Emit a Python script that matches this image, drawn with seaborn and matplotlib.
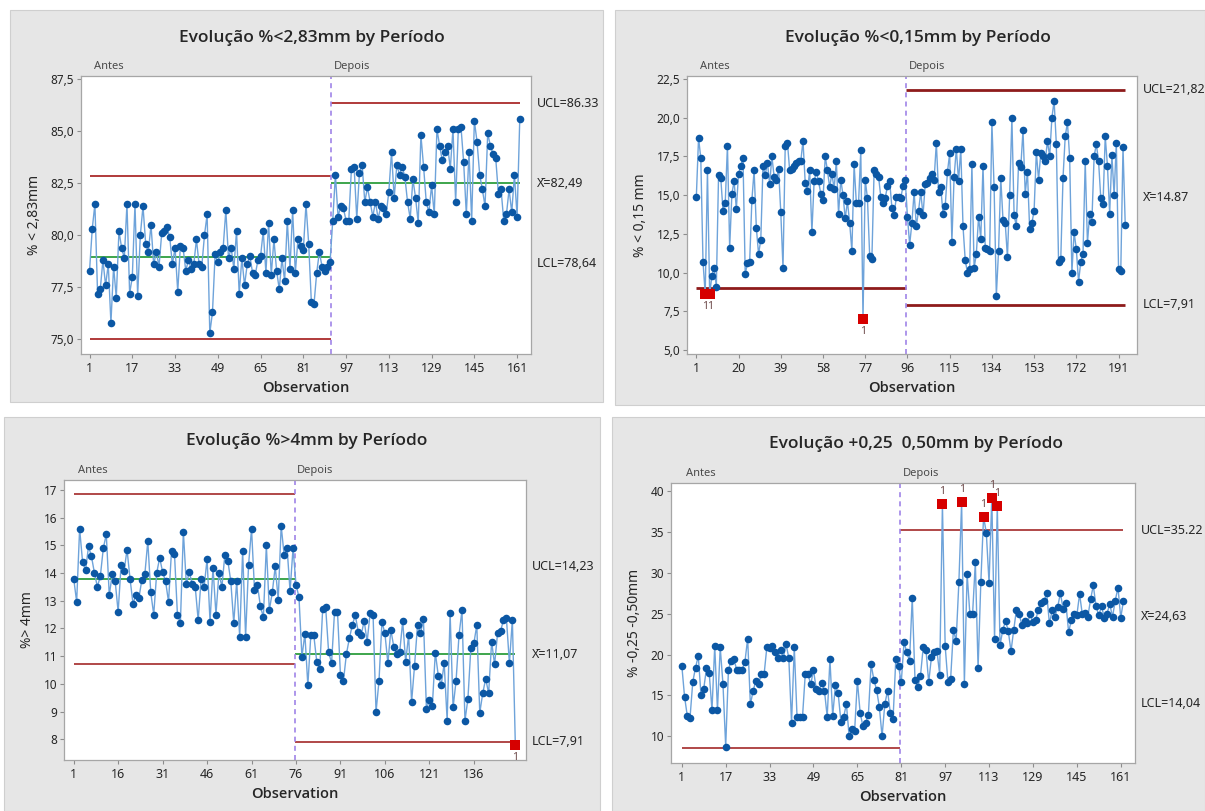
import numpy as np
import pandas as pd
import matplotlib
matplotlib.use("Agg")
import matplotlib.pyplot as plt
import seaborn as sns
from matplotlib.ticker import FuncFormatter, FixedLocator
from matplotlib.patches import Rectangle

sns.set_theme(style="white")
plt.rcParams['font.family'] = ['Noto Sans', 'DejaVu Sans']

# ---------------- data ----------------
# Panel 1: % < 2,83mm
p1_antes = [78.3, 80.3, 81.5, 77.2, 77.4, 78.8, 77.6, 78.6, 75.8, 78.5,
            77.0, 80.2, 79.4, 78.9, 81.5, 77.2, 78.0, 81.5, 77.1, 80.0,
            81.4, 79.6, 79.2, 80.5, 78.6, 79.2, 78.5, 80.1, 80.2, 80.4,
            79.9, 78.6, 79.4, 77.3, 79.5, 79.4, 78.3, 78.8, 78.4, 78.6,
            79.8, 78.6, 78.5, 80.0, 81.0, 75.3, 76.3, 79.1, 78.7, 79.2,
            79.4, 81.2, 78.9, 79.4, 78.4, 80.2, 77.2, 78.9, 77.6, 78.6,
            79.0, 78.2, 78.1, 78.8, 79.0, 80.2, 78.2, 80.6, 78.1, 79.8,
            78.3, 77.4, 78.9, 77.8, 80.7, 78.4, 81.2, 78.2, 79.8, 79.5,
            79.3, 81.5, 79.6, 76.8, 76.7, 78.2, 79.2, 78.5, 78.3, 78.5,
            78.7]
p1_depois = [80.7, 82.9, 80.9, 81.4, 81.3, 80.7, 80.7, 83.2, 83.3, 80.8,
             83.0, 83.4, 81.6, 82.3, 81.6, 80.9, 81.6, 80.8, 81.4, 81.3,
             81.0, 82.1, 84.0, 81.8, 83.4, 82.9, 83.3, 82.8, 81.6, 80.8,
             82.7, 81.8, 80.6, 84.8, 83.3, 81.6, 81.1, 82.4, 81.0, 85.1,
             84.3, 83.6, 84.0, 84.3, 83.2, 85.1, 81.6, 85.1, 85.2, 83.5,
             81.0, 84.0, 80.7, 85.5, 84.5, 82.9, 82.2, 81.4, 84.9, 84.3,
             83.9, 83.7, 82.0, 82.2, 80.7, 81.0, 82.2, 81.1, 82.9, 80.9,
             85.6]
p1_ucl = [82.84, 86.33]
p1_cl = [78.94, 82.49]
p1_lcl = [75.04, 78.64]

# Panel 2: % < 0,15mm
p2_antes = [14.9, 18.7, 17.4, 10.7, 8.6, 16.6, 8.6, 9.8, 10.3, 9.1,
            16.3, 16.1, 14.0, 14.5, 18.2, 11.6, 15.1, 15.9, 14.1, 16.4,
            16.9, 17.4, 9.9, 10.6, 10.7, 14.7, 16.6, 12.9, 11.2, 12.1,
            16.9, 16.3, 17.1, 15.7, 17.5, 16.2, 16.0, 16.7, 13.9, 10.3,
            18.2, 18.4, 16.6, 16.7, 16.9, 17.1, 17.2, 17.2, 18.5, 15.8,
            15.3, 16.6, 12.6, 15.9, 16.5, 15.9, 15.1, 14.7, 17.5, 16.6,
            15.5, 16.4, 15.4, 17.2, 13.8, 16.0, 15.0, 13.5, 14.6, 13.2,
            11.4, 17.0, 14.5, 14.5, 17.9, 7.0, 16.0, 14.8, 11.1, 10.9,
            16.6, 16.4, 16.2, 14.9, 14.5, 14.8, 15.6, 15.9, 14.2, 13.7,
            14.9, 14.9, 14.8, 15.6, 16.0]
p2_depois = [13.6, 11.8, 13.2, 15.2, 13.0, 14.0, 15.2, 13.7, 15.7, 15.8,
             16.1, 16.4, 16.0, 18.4, 15.2, 15.5, 13.8, 14.3, 16.5, 17.7,
             12.0, 16.2, 18.0, 15.9, 18.0, 13.0, 10.8, 10.0, 10.2, 17.0,
             10.3, 11.2, 13.6, 12.2, 16.9, 11.6, 11.5, 11.4, 19.7, 15.5,
             8.5, 11.4, 16.1, 13.4, 13.2, 11.0, 15.0, 20.0, 13.7, 13.0,
             17.1, 16.8, 19.2, 15.1, 16.5, 12.8, 13.2, 14.0, 17.8, 16.0,
             17.7, 17.5, 17.2, 18.5, 17.5, 20.0, 21.1, 18.3, 10.7, 10.9,
             16.1, 18.8, 19.7, 17.4, 10.0, 12.6, 11.5, 9.4, 10.7, 11.2,
             17.2, 11.9, 13.8, 13.3, 17.5, 18.3, 17.2, 14.8, 14.4, 18.8,
             16.9, 13.8, 17.6, 15.0, 18.4, 10.2, 10.1, 18.1, 13.1]
p2_ucl = [None, 21.82]
p2_cl = [None, 14.87]
p2_lcl = [8.99, 7.91]

# Panel 3: % > 4mm
p3_antes = [13.8, 12.96, 15.6, 14.4, 14.1, 14.96, 14.6, 14.0, 13.5, 13.9,
            14.9, 15.4, 13.2, 13.95, 13.7, 12.6, 14.3, 14.06, 14.85, 13.8,
            12.9, 13.2, 13.1, 13.76, 13.95, 15.15, 13.3, 12.5, 14.0, 14.55,
            14.04, 13.7, 12.96, 14.8, 14.7, 12.5, 12.2, 15.5, 13.6, 14.04,
            13.6, 13.5, 12.3, 13.8, 13.5, 14.5, 12.24, 14.2, 12.5, 14.0,
            13.5, 14.66, 14.45, 13.7, 12.2, 13.7, 11.7, 14.8, 11.7, 14.3,
            15.6, 13.4, 13.56, 12.8, 12.4, 15.0, 12.66, 13.3, 14.24, 13.04,
            15.7, 14.66, 14.9, 13.34, 14.9]
p3_depois = [13.58, 13.14, 10.98, 11.8, 9.94, 11.76, 11.76, 10.8, 10.52, 12.7,
             12.78, 11.16, 10.74, 12.6, 12.6, 10.32, 10.1, 11.07, 11.64, 12.12,
             12.48, 11.88, 11.76, 12.28, 11.52, 12.54, 12.5, 8.98, 10.1, 12.24,
             11.82, 10.74, 11.94, 11.34, 11.07, 11.16, 12.26, 10.8, 11.76, 9.34,
             10.66, 12.12, 11.82, 12.33, 9.1, 9.4, 9.2, 11.13, 10.3, 9.96,
             10.74, 8.67, 12.54, 9.15, 10.1, 11.76, 12.66, 8.67, 9.45, 11.3,
             11.46, 12.12, 8.95, 9.66, 10.18, 9.66, 11.52, 10.7, 11.82, 11.9,
             12.3, 12.36, 10.74, 12.32, 7.8]
p3_ucl = [16.85, 14.23]
p3_cl = [13.78, 11.07]
p3_lcl = [10.72, 7.91]

# Panel 4: % 0,25 - 0,50mm
p4_antes = [18.66, 14.84, 12.5, 12.3, 16.67, 18.4, 19.84, 15.0, 15.85, 18.3,
            17.7, 13.2, 21.06, 13.2, 20.9, 16.4, 8.75, 18.17, 19.2, 19.4,
            18.17, 18.17, 18.17, 19.1, 21.95, 13.9, 15.57, 16.8, 16.4, 17.6,
            17.6, 20.9, 20.85, 21.0, 20.3, 19.6, 20.6, 19.6, 21.26, 19.6,
            11.67, 20.9, 12.4, 12.4, 12.4, 17.6, 17.6, 16.34, 18.1, 15.8,
            15.57, 16.5, 15.57, 12.4, 19.4, 12.5, 16.26, 15.24, 11.8, 12.4,
            13.94, 10.0, 10.85, 10.7, 16.8, 12.9, 11.26, 11.67, 12.6, 18.8,
            16.95, 15.7, 13.6, 10.0, 13.94, 15.57, 12.9, 12.07, 19.4, 18.6]
p4_depois = [16.6, 21.5, 20.3, 19.2, 26.95, 16.95, 16.0, 17.4, 20.9, 20.6,
             16.6, 19.7, 20.3, 20.45, 17.56, 38.4, 21.06, 16.67, 17.07, 23.0,
             21.67, 28.86, 38.6, 16.46, 29.88, 25.0, 25.0, 31.3, 18.3, 28.86,
             36.87, 34.88, 28.74, 39.15, 21.9, 38.17, 21.14, 23.0, 24.1, 22.9,
             20.4, 23.05, 25.5, 24.9, 23.6, 24.1, 23.86, 24.9, 24.0, 24.27,
             25.5, 26.3, 26.5, 27.5, 23.8, 25.4, 24.6, 25.8, 27.5, 25.6,
             26.3, 22.76, 24.2, 25.0, 24.8, 27.4, 24.9, 25.08, 24.6, 26.75,
             28.45, 25.9, 24.8, 25.9, 24.5, 25.0, 26.2, 24.6, 26.6, 28.2,
             24.5, 26.6]
p4_ucl = [None, 35.22]
p4_cl = [None, 24.63]
p4_lcl = [8.62, 14.04]

stage_names = ["Antes", "Depois"]
titles = ["Evolução %<2,83mm by Período", "Evolução %<0,15mm by Período",
          "Evolução %>4mm by Período", "Evolução +0,25  0,50mm by Período"]
ylabels = ["% < 2,83mm", "% < 0,15 mm", "%> 4mm", "% -0,25 -0,50mm"]
p1_right = ["UCL=86.33", "X̄=82,49", "LCL=78,64"]
p2_right = ["UCL=21,82", "X̄=14.87", "LCL=7,91"]
p3_right = ["UCL=14,23", "X̄=11,07", "LCL=7,91"]
p4_right = ["UCL=35.22", "X̄=24,63", "LCL=14,04"]
p1_xt = list(range(1, 162, 16))
p2_xt = list(range(1, 192, 19))
p3_xt = list(range(1, 137, 15))
p4_xt = list(range(1, 162, 16))
p1_yt = [75.0, 77.5, 80.0, 82.5, 85.0, 87.5]
p2_yt = [5.0, 7.5, 10.0, 12.5, 15.0, 17.5, 20.0, 22.5]
p3_yt = list(range(8, 18))
p4_yt = [10, 15, 20, 25, 30, 35, 40]

# ---------------- styling ----------------
W, H = 1205, 811
MARK = "#0b57a4"
LINE = "#6ea3da"
RED_SQ = "#d60000"
GREEN = "#2e9e3e"
STAGE = "#a084e8"
TXT = "#262626"
BOLD_FAM = ["Open Sans", "Lato", "DejaVu Sans"]

fig = plt.figure(figsize=(W / 100, H / 100), dpi=100)
fig.patch.set_facecolor("white")


def frect(x0, y0, x1, y1):
    return [x0 / W, 1 - y1 / H, (x1 - x0) / W, (y1 - y0) / H]


for (x0, y0, x1, y1) in [(10, 10, 603, 402), (615, 10, 1205, 405),
                         (4, 417, 600, 811), (612, 417, 1205, 811)]:
    fig.add_artist(Rectangle((x0 / W, 1 - y1 / H), (x1 - x0) / W, (y1 - y0) / H,
                             transform=fig.transFigure, facecolor="#e6e6e6",
                             edgecolor="#cfcfcf", lw=0.8, zorder=0))


def comma_fmt(dec):
    def f(v, pos):
        s = f"{v:.{dec}f}"
        return s.replace(".", ",")
    return FuncFormatter(f)


def panel(rect, title, tpos, ylabel, antes, depois, ucl, cl, lcl, drawn,
          ylim, yticks, ydec, xlim, xticks, right, lim_color, lim_lw):
    ax = fig.add_axes(rect)
    ax.set_facecolor("white")
    n1 = len(antes)
    vals = list(antes) + list(depois)
    N = len(vals)
    df = pd.DataFrame({"obs": np.arange(1, N + 1), "val": vals,
                       "stage": [0] * n1 + [1] * (N - n1)})
    up = np.array([ucl[s] if ucl[s] is not None else np.inf for s in df.stage])
    lo = np.array([lcl[s] if lcl[s] is not None else -np.inf for s in df.stage])
    df["flag"] = (df.val > up) | (df.val < lo)
    df["above"] = df.val > up

    sns.lineplot(data=df, x="obs", y="val", ax=ax, color=LINE, lw=1.0,
                 estimator=None, sort=False, zorder=2)
    sns.scatterplot(data=df[~df.flag], x="obs", y="val", ax=ax, color=MARK,
                    s=30, linewidth=0, zorder=3)
    if df.flag.any():
        sns.scatterplot(data=df[df.flag], x="obs", y="val", ax=ax, marker="s",
                        color=RED_SQ, s=44, linewidth=0, zorder=4)
        for _, r in df[df.flag].iterrows():
            ax.annotate("1", (r.obs, r.val), xytext=(0, 9 if r.above else -9),
                        textcoords="offset points", ha="center", va="center",
                        fontsize=7.5, color="#6e4a4a", zorder=5)

    bnd = n1 + 0.5
    starts = [1, bnd]
    ends = [bnd, N]
    for i in range(2):
        for key, arr, col, lw in [("ucl", ucl, lim_color, lim_lw),
                                  ("cl", cl, GREEN, 1.3),
                                  ("lcl", lcl, lim_color, lim_lw)]:
            if drawn[key][i] and arr[i] is not None:
                ax.hlines(arr[i], starts[i], ends[i], color=col, lw=lw, zorder=1)
    ax.axvline(bnd, color=STAGE, lw=1.2, ls=(0, (3, 2.5)), zorder=1)

    ax.set_xlim(*xlim)
    ax.set_ylim(*ylim)
    ax.xaxis.set_major_locator(FixedLocator(xticks))
    ax.yaxis.set_major_locator(FixedLocator(yticks))
    ax.yaxis.set_major_formatter(comma_fmt(ydec))
    ax.tick_params(axis="both", which="major", direction="out", length=3,
                   width=0.8, color="#8c8c8c", labelsize=8.5, labelcolor=TXT,
                   pad=2, bottom=True, left=True)
    ax.tick_params(axis="x", labelsize=9, pad=3)
    for sp in ax.spines.values():
        sp.set_color("#a6a6a6")
        sp.set_linewidth(0.9)
    ax.set_xlabel("Observation", fontsize=10.5, fontweight="semibold", color=TXT,
                  labelpad=4, family=BOLD_FAM)
    ax.set_ylabel(ylabel, fontsize=10, color=TXT, labelpad=6)

    # stage labels
    ax.annotate(stage_names[0], (1, 1), xycoords=("data", "axes fraction"),
                xytext=(3, 3), textcoords="offset points", fontsize=8,
                color="#4a4a4a", ha="left", va="bottom")
    ax.annotate(stage_names[1], (bnd, 1), xycoords=("data", "axes fraction"),
                xytext=(2, 3), textcoords="offset points", fontsize=8,
                color="#4a4a4a", ha="left", va="bottom")

    # right labels (last stage limits)
    for txt, v in zip(right, [ucl[1], cl[1], lcl[1]]):
        ax.annotate(txt, (1, v), xycoords=("axes fraction", "data"),
                    xytext=(4, 0), textcoords="offset points", fontsize=9,
                    color=TXT, ha="left", va="center", annotation_clip=False)

    fig.text(tpos[0] / W, 1 - tpos[1] / H, title, ha="center", va="center",
             fontsize=12.5, fontweight="semibold", color=TXT, family=BOLD_FAM)
    return ax


panel(frect(81, 76, 531, 354), titles[0], (312, 38), ylabels[0],
      p1_antes, p1_depois, p1_ucl, p1_cl, p1_lcl,
      {"ucl": [True, True], "cl": [True, True], "lcl": [True, False]},
      (74.3, 87.65), p1_yt, 1, (-2.2, 166.2), p1_xt, p1_right, "#b03a3a", 1.4)

panel(frect(687, 76, 1137, 354), titles[1], (918, 38), ylabels[1],
      p2_antes, p2_depois, p2_ucl, p2_cl, p2_lcl,
      {"ucl": [False, True], "cl": [False, False], "lcl": [True, True]},
      (4.74, 22.7), p2_yt, 1, (-3.2, 199.3), p2_xt, p2_right, "#8e1b1b", 2.0)

panel(frect(64, 480, 526, 760), titles[2], (307, 441), ylabels[2],
      p3_antes, p3_depois, p3_ucl, p3_cl, p3_lcl,
      {"ucl": [True, False], "cl": [True, True], "lcl": [True, True]},
      (7.25, 17.36), p3_yt, 0, (-2.27, 153.6), p3_xt, p3_right, "#b04848", 1.4)

panel(frect(671, 483, 1135, 763), titles[3], (916, 444), ylabels[3],
      p4_antes, p4_depois, p4_ucl, p4_cl, p4_lcl,
      {"ucl": [False, True], "cl": [False, False], "lcl": [True, False]},
      (6.74, 40.98), p4_yt, 0, (-2.94, 166.2), p4_xt, p4_right, "#b04848", 1.4)

fig.savefig("out.png", dpi=100, facecolor="white")
